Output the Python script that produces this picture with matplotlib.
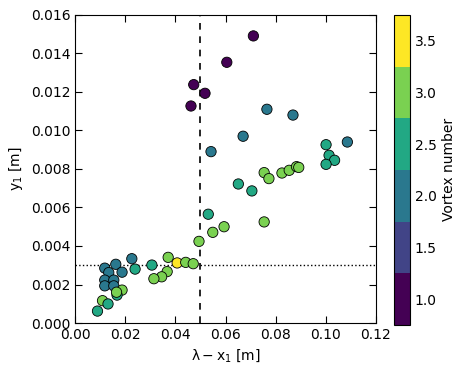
import numpy as np
import matplotlib
matplotlib.use("Agg")
import matplotlib.pyplot as plt

plt.rcParams['mathtext.default'] = 'regular'
plt.rcParams['font.size'] = 10

# lambda - x1 [m]
dx = [0.0711, 0.0605, 0.0473, 0.0518, 0.0462,
      0.0765, 0.0869, 0.0670, 0.0542, 0.1086,
      0.1001, 0.1013, 0.1035, 0.1001,
      0.0754, 0.0773, 0.0825, 0.0854, 0.0883, 0.0892,
      0.0651, 0.0705, 0.0531, 0.0754,
      0.0549, 0.0594, 0.0494, 0.0371, 0.0407, 0.0441, 0.0471,
      0.0306, 0.0367, 0.0345, 0.0314,
      0.0226, 0.0239, 0.0162, 0.0187, 0.0118, 0.0134, 0.0118, 0.0154, 0.0118, 0.0154,
      0.0187, 0.0167, 0.0165, 0.0109, 0.0131, 0.0089]
# y1 [m]
y1 = [0.01491, 0.01354, 0.01238, 0.01193, 0.01127,
      0.01110, 0.01080, 0.00970, 0.00890, 0.00940,
      0.00926, 0.00871, 0.00845, 0.00824,
      0.00781, 0.00750, 0.00779, 0.00793, 0.00812, 0.00808,
      0.00722, 0.00686, 0.00565, 0.00525,
      0.00471, 0.00500, 0.00424, 0.00341, 0.00312, 0.00315, 0.00308,
      0.00301, 0.00267, 0.00240, 0.00230,
      0.00334, 0.00280, 0.00305, 0.00264, 0.00285, 0.00262, 0.00223, 0.00223, 0.00193, 0.00193,
      0.00171, 0.00145, 0.00160, 0.00116, 0.00099, 0.00062]
vortex = [1, 1, 1, 1, 1,
          2, 2, 2, 2, 2,
          2.5, 2.5, 2.5, 2.5,
          3, 3, 3, 3, 3, 3,
          2.5, 2.5, 2.5, 3,
          3, 3, 3, 3, 3.5, 3, 3,
          2.5, 3, 3, 3,
          2, 2.5, 2, 2, 2, 2, 2, 2, 2, 2,
          3, 2.5, 3, 3, 2.5, 2.5]

fig = plt.figure(figsize=(4.67, 3.73), dpi=100)
ax = fig.add_axes([0.161, 0.134, 0.644, 0.826])
cax = fig.add_axes([0.844, 0.129, 0.034, 0.831])

cmap = plt.get_cmap('viridis', 6)
sc = ax.scatter(dx, y1, c=vortex, cmap=cmap, vmin=0.75, vmax=3.75,
                s=55, edgecolors='black', linewidths=0.6, zorder=3)

ax.axvline(0.05, color='black', linestyle='--', linewidth=1.2, dashes=(4, 4))
ax.axhline(0.003, color='black', linestyle=':', linewidth=1.0)

ax.set_xlim(0, 0.12)
ax.set_ylim(0, 0.016)
ax.set_xticks(np.arange(0, 0.121, 0.02))
ax.set_yticks(np.arange(0, 0.0161, 0.002))
ax.xaxis.set_major_formatter(plt.FormatStrFormatter('%.2f'))
ax.yaxis.set_major_formatter(plt.FormatStrFormatter('%.3f'))
ax.tick_params(direction='in', top=True, right=True, length=5)
ax.set_xlabel(r'$\lambda - x_1$ [m]')
ax.set_ylabel(r'$y_1$ [m]')

cb = fig.colorbar(sc, cax=cax)
cb.set_ticks([1.0, 1.5, 2.0, 2.5, 3.0, 3.5])
cb.ax.tick_params(length=0)
cb.set_label('Vortex number')

fig.savefig('out.png', dpi=100)
